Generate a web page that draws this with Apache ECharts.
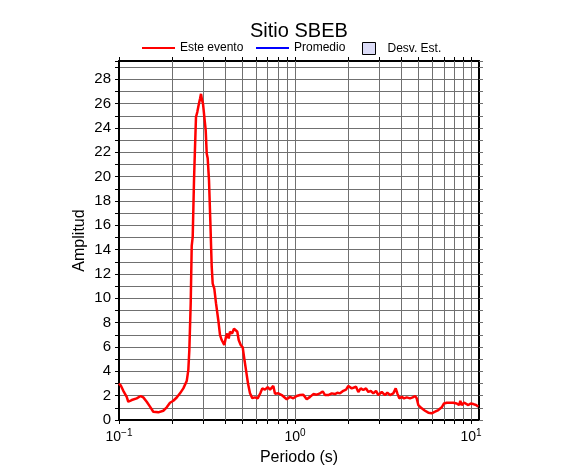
<!DOCTYPE html>
<html><head><meta charset="utf-8">
<script src="https://cdn.jsdelivr.net/npm/echarts@6/dist/echarts.min.js"></script>
<style>html,body{margin:0;padding:0;background:#fff}#c{width:586px;height:475px}</style>
</head><body><div id="c"></div>
<script>
const periods = [
 0.1, 0.1027, 0.1058, 0.1106, 0.1129, 0.1181, 0.1261, 0.1328, 0.1374, 0.1437,
 0.15, 0.1566, 0.1672, 0.1785, 0.1867, 0.1949, 0.2035, 0.2128, 0.2221, 0.232,
 0.2371, 0.2425, 0.2476, 0.2509, 0.2555, 0.2589, 0.2623, 0.2668, 0.2703, 0.2738,
 0.2785, 0.2837, 0.2886, 0.2924, 0.2962, 0.3001, 0.3053, 0.3109, 0.315, 0.3191,
 0.3246, 0.3302, 0.3363, 0.3407, 0.3479, 0.3557, 0.3666, 0.3748, 0.3833, 0.3965,
 0.4055, 0.4124, 0.42, 0.4272, 0.4386, 0.4502, 0.4603, 0.4701, 0.4787, 0.4914,
 0.5045, 0.5131, 0.5267, 0.5407, 0.555, 0.572, 0.5925, 0.6138, 0.6351, 0.6519,
 0.6753, 0.6996, 0.721, 0.7528, 0.7698, 0.8037, 0.8403, 0.8581, 0.8971, 0.9367,
 0.978, 1.0225, 1.0677, 1.1148, 1.1656, 1.217, 1.2707, 1.3285, 1.3872, 1.437,
 1.4809, 1.5463, 1.6166, 1.6879, 1.7395, 1.802, 1.8816, 1.9492, 2.0087, 2.0539,
 2.1002, 2.1446, 2.2214, 2.2893, 2.3624, 2.4442, 2.532, 2.6094, 2.6926, 2.7857,
 2.8857, 2.9738, 3.1089, 3.246, 3.3452, 3.4654, 3.6181, 3.7337, 3.8127, 3.9138,
 4.0388, 4.1623, 4.3119, 4.5024, 4.6643, 4.807, 4.9144, 5.0183, 5.2467, 5.4782,
 5.7199, 5.98, 6.2437, 6.5189, 6.8155, 7.0236, 7.2759, 7.597, 7.9325, 8.2934,
 8.547, 8.6935, 8.8545, 9.1251, 9.3669, 9.653, 9.9609, 10.306, 10.677, 11.001
];
const amplitudes = [
 3.0, 2.8, 2.4, 1.9, 1.5, 1.64, 1.78, 1.97, 1.86, 1.5,
 1.1, 0.68, 0.63, 0.76, 1.04, 1.42, 1.58, 1.85, 2.19, 2.6,
 2.7, 3.2, 4.1, 5.7, 9.6, 14.3, 15.05, 19.7, 22.4, 24.9,
 25.3, 25.9, 26.4, 26.8, 26.3, 26.0, 24.9, 23.8, 21.9, 21.5,
 19.7, 16.4, 12.6, 11.2, 10.8, 9.6, 8.2, 7.0, 6.57, 6.16,
 6.84, 7.1, 6.7, 7.25, 7.1, 7.5, 7.66, 7.25, 6.57, 6.16,
 5.97, 5.2, 4.1, 3.0, 2.2, 1.8, 1.86, 1.78, 2.2, 2.6,
 2.5, 2.7, 2.5, 2.8, 2.15, 2.2, 2.05, 1.9, 1.7, 1.9,
 1.78, 1.97, 2.05, 2.08, 1.7, 1.9, 2.13, 2.08, 2.19, 2.35,
 2.05, 2.05, 2.19, 2.13, 2.24, 2.19, 2.4, 2.5, 2.79, 2.87,
 2.6, 2.46, 2.73, 2.3, 2.6, 2.46, 2.6, 2.3, 2.4, 2.19,
 2.4, 2.05, 2.3, 2.05, 2.24, 2.05, 2.19, 2.6, 2.19, 1.78,
 1.9, 1.78, 1.86, 1.78, 1.86, 1.97, 1.78, 1.23, 0.96, 0.76,
 0.6, 0.55, 0.68, 0.82, 1.04, 1.36, 1.42, 1.42, 1.42, 1.36,
 1.23, 1.58, 1.23, 1.42, 1.5, 1.23, 1.36, 1.31, 1.23, 1.1
];
const promedio = [];
const desvEst = [];
const xTickValues = [0.1,0.2,0.3,0.4,0.5,0.6,0.7,0.8,0.9,1,2,3,4,5,6,7,8,9,10];
const xLabelValues = [0.1, 1, 10];
const xMin = 0.1, xMax = 11.1;
const yMin = 0, yMax = 29.5;

const FONT = '"Liberation Sans", Arial, Helvetica, sans-serif';
const gridColor = '#707070';
const lineIcon = 'path://M0,0M0,5L33,5L33,7L0,7ZM33,12';
function expLabel(v) {
  const e = Math.round(Math.log10(v));
  return '{b|10}{s|' + (e < 0 ? '\u2212' + (-e) : e) + '}';
}
const chart = echarts.init(document.getElementById('c'), null, {renderer: 'canvas'});
const legendCommon = {
  padding: 0, selectedMode: false, itemGap: 0, top: 42, symbolKeepAspect: false,
  textStyle: {fontFamily: FONT, fontSize: 12, color: '#000'}
};
const option = {
  animation: false,
  backgroundColor: '#fff',
  title: {
    text: 'Sitio SBEB', left: 250, top: 21, padding: 0,
    textStyle: {fontFamily: FONT, fontSize: 20, fontWeight: 'normal', color: '#000'}
  },
  legend: [
    Object.assign({}, legendCommon, {data: [{name: 'Este evento', icon: lineIcon}], left: 142, itemWidth: 33, itemHeight: 12}),
    Object.assign({}, legendCommon, {data: [{name: 'Promedio', icon: lineIcon}], left: 256, itemWidth: 33, itemHeight: 12}),
    Object.assign({}, legendCommon, {
      data: [{name: 'Desv. Est.', icon: 'rect', itemStyle: {color: '#dcdcf7', borderColor: '#000', borderWidth: 1}}],
      left: 362, itemWidth: 13, itemHeight: 12,
      textStyle: {fontFamily: FONT, fontSize: 12, color: '#000', padding: [0, 0, 0, 7]}
    })
  ],
  grid: {left: 119, right: 107, top: 61, bottom: 55, containLabel: false, outerBoundsMode: 'none'},
  xAxis: [
    {
      type: 'log', logBase: 10, min: xMin, max: xMax, position: 'bottom',
      name: 'Periodo (s)', nameLocation: 'middle', nameGap: 30, nameMoveOverlap: false,
      nameTextStyle: {fontFamily: FONT, fontSize: 16, color: '#000'},
      axisLine: {show: true, onZero: false, lineStyle: {color: '#000', width: 2}},
      axisTick: {show: true, inside: false, length: 4, customValues: xTickValues, lineStyle: {color: '#000', width: 1}},
      axisLabel: {
        show: true, customValues: xLabelValues, formatter: expLabel, margin: 8,
        rich: {
          b: {fontFamily: FONT, fontSize: 14, color: '#000'},
          s: {fontFamily: FONT, fontSize: 10, color: '#000', padding: [0, 0, 9, 0]}
        }
      },
      splitLine: {show: false},
      minorTick: {show: false}, minorSplitLine: {show: false}
    },
    {
      type: 'log', logBase: 10, min: xMin, max: xMax, position: 'top',
      axisLine: {show: true, onZero: false, lineStyle: {color: '#000', width: 2}},
      axisTick: {show: true, inside: false, length: 4, customValues: xTickValues, lineStyle: {color: '#000', width: 1}},
      axisLabel: {show: false},
      splitLine: {show: false}
    }
  ],
  yAxis: [
    {
      type: 'value', min: yMin, max: yMax, interval: 1, position: 'left',
      name: 'Amplitud', nameLocation: 'middle', nameGap: 31, nameRotate: 90, nameMoveOverlap: false,
      nameTextStyle: {fontFamily: FONT, fontSize: 16, color: '#000'},
      axisLine: {show: true, onZero: false, lineStyle: {color: '#000', width: 2}},
      axisTick: {show: true, inside: false, length: 4, lineStyle: {color: '#000', width: 1}},
      axisLabel: {
        show: true, margin: 8, fontFamily: FONT, fontSize: 15, color: '#000',
        formatter: v => (v % 2 === 0 ? String(v) : '')
      },
      splitLine: {show: true, lineStyle: {color: gridColor, width: 1}}
    },
    {
      type: 'value', min: yMin, max: yMax, interval: 1, position: 'right',
      axisLine: {show: true, onZero: false, lineStyle: {color: '#000', width: 2}},
      axisTick: {show: true, inside: false, length: 4, lineStyle: {color: gridColor, width: 1}},
      axisLabel: {show: false},
      splitLine: {show: false}
    }
  ],
  series: [
    {
      name: 'Este evento', type: 'line', xAxisIndex: 0, yAxisIndex: 0,
      data: periods.map((p, i) => [p, amplitudes[i]]),
      symbol: 'none', showSymbol: false, smooth: false, z: 5,
      lineStyle: {color: '#ff0000', width: 2.5},
      itemStyle: {color: '#ff0000'}
    },
    {
      name: 'Promedio', type: 'line', xAxisIndex: 0, yAxisIndex: 0, z: 1,
      data: promedio, symbol: 'none', showSymbol: false,
      lineStyle: {color: '#0000ff', width: 2},
      itemStyle: {color: '#0000ff'},
      markLine: {
        silent: true, symbol: 'none', animation: false,
        label: {show: false},
        lineStyle: {color: gridColor, width: 1, type: 'solid'},
        emphasis: {disabled: true},
        data: xTickValues.filter(v => v > xMin).map(v => ({xAxis: v}))
      }
    },
    {
      name: 'Desv. Est.', type: 'line', xAxisIndex: 0, yAxisIndex: 0,
      data: desvEst, symbol: 'none', showSymbol: false,
      lineStyle: {color: '#dcdcf7', width: 0},
      areaStyle: {color: '#dcdcf7'},
      itemStyle: {color: '#dcdcf7', borderColor: '#000', borderWidth: 1}
    }
  ]
};
chart.setOption(option);
</script>
</body></html>
